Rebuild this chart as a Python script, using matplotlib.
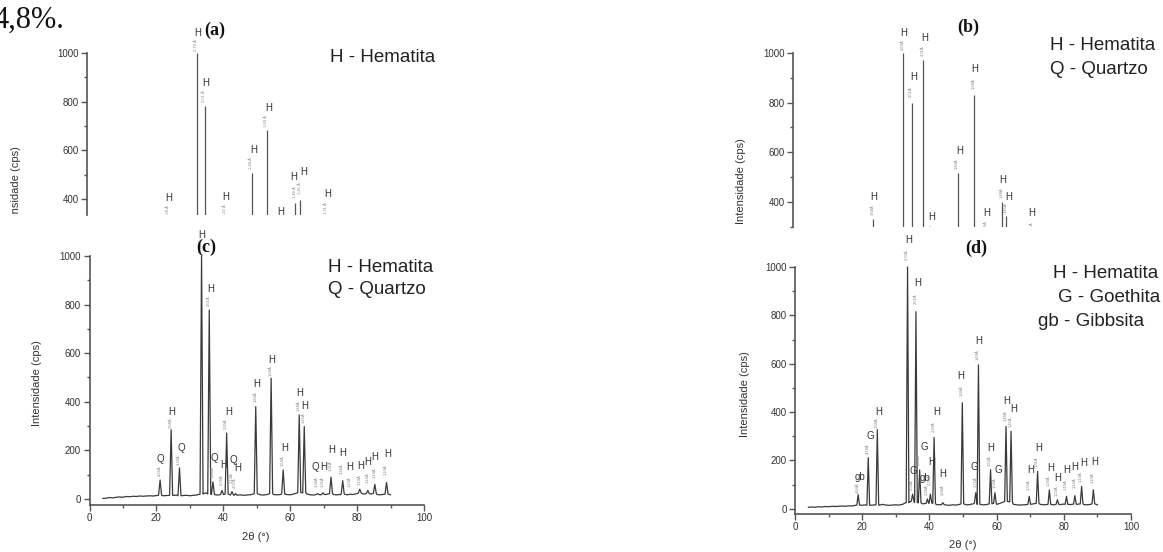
import numpy as np
import matplotlib
matplotlib.use("Agg")
import matplotlib.pyplot as plt
from matplotlib.transforms import Bbox, TransformedBbox

# --- dados -------------------------------------------------------------

# (a) padrão em barras (só a parte de cima aparece)
a_pos = [24.2, 32.7, 35.2, 41.2, 49.2, 53.6, 57.9, 62.1, 63.6, 71.5]
a_hgt = [310, 1000, 782, 310, 507, 684, 250, 383, 396, 320]
a_fase = ["H"] * 10
a_d = ["3,68 Å", "2,70 Å", "2,51 Å", "2,20 Å", "1,84 Å", "1,69 Å",
       "1,60 Å", "1,48 Å", "1,45 Å", "1,31 Å"]
a_lab_x = [24.3, 33.2, 35.3, 41.4, 49.9, 54.3, 57.9, 61.6, 64.8, 71.8]
a_lab_y = [404, 1082, 877, 408, 601, 774, 346, 490, 511, 420]

# (b) padrão em barras
b_pos = [23.9, 32.8, 35.3, 38.8, 41.3, 49.0, 53.9, 57.6, 62.3, 63.4, 71.1]
b_hgt = [330, 1000, 797, 972, 250, 517, 831, 265, 400, 345, 260]
b_fase = ["H"] * 11
b_d = ["3,68Å", "2,69Å", "2,51Å", "2,31Å", "2,19Å", "1,84Å", "1,69Å",
       "1,59Å", "1,48Å", "1,45Å", "1,31Å"]
b_lab_x = [23.9, 33.0, 35.8, 39.1, 41.3, 49.5, 54.2, 57.6, 62.3, 64.1, 71.1]
b_lab_y = [420, 1080, 903, 1060, 339, 606, 934, 355, 488, 420, 355]

# (c) difratograma completo
c_pos = [21.1, 24.4, 26.9, 33.5, 35.8, 36.9, 39.6, 41.0, 42.6, 43.7, 49.7,
         54.3, 57.9, 62.7, 64.2, 68.2, 69.8, 72.2, 75.7, 78.0, 80.8, 83.2,
         85.3, 88.8]
c_hgt = [78, 285, 128, 1000, 778, 70, 35, 271, 30, 22, 380,
         497, 119, 346, 298, 22, 25, 90, 75, 20, 40, 35,
         60, 68]
c_fase = ["Q", "H", "Q", "H", "H", "Q", "H", "H", "Q", "H", "H",
          "H", "H", "H", "H", "Q", "H", "H", "H", "H", "H", "H",
          "H", "H"]
c_d = ["4,26Å", "3,68Å", "3,34Å", "2,70Å", "2,51Å", "2,46Å", "2,28Å", "2,20Å",
       "2,13Å", "2,07Å", "1,83Å", "1,69Å", "1,59Å", "1,48Å", "1,45Å", "1,38Å",
       "1,35Å", "1,31Å", "1,26Å", "1,23Å", "1,19Å", "1,16Å", "1,14Å", "1,10Å"]
c_lab_x = [21.2, 24.6, 27.4, 33.5, 36.2, 37.4, 40.0, 41.5, 42.9, 44.4, 50.0,
           54.4, 58.4, 62.8, 64.4, 67.5, 70.1, 72.3, 75.8, 77.9, 81.0, 83.2,
           85.4, 89.3]
c_lab_y = [165, 358, 210, 1086, 864, 170, 140, 359, 160, 128, 473,
           572, 210, 437, 383, 132, 132, 200, 189, 132, 136, 153,
           172, 185]
c_base_x = np.arange(4, 91, 1.0)
c_base_y = np.array([2, 3, 6, 4, 7, 8, 7, 10, 9, 11, 10, 12, 11, 12, 13, 12,
                     14, 15, 13, 14, 15, 14, 16, 13, 14, 15, 13, 15, 16, 20,
                     22, 25, 20, 18, 16, 17, 18, 20, 17, 16, 15, 17, 15, 16,
                     17, 20, 22, 17, 16, 18, 22, 18, 17, 18, 20, 18, 17, 20,
                     24, 26, 25, 20, 17, 16, 18, 17, 18, 19, 22, 18, 17, 18,
                     20, 17, 18, 19, 22, 24, 20, 22, 20, 22, 18, 17, 19, 20,
                     17], dtype=float)

# (d) difratograma completo
d_pos = [18.8, 21.8, 24.5, 33.5, 35.0, 36.0, 37.1, 39.4, 40.3, 41.4, 44.0,
         49.8, 53.8, 54.6, 58.2, 59.5, 62.8, 64.3, 69.7, 72.2, 75.7, 78.1,
         80.8, 83.3, 85.3, 88.8]
d_hgt = [58, 211, 327, 1000, 60, 815, 160, 40, 60, 295, 25,
         438, 66, 595, 161, 66, 340, 320, 51, 154, 78, 37,
         51, 54, 92, 78]
d_fase = ["gb", "G", "H", "H", "G", "H", "G", "gb", "H", "H", "H",
          "H", "G", "H", "H", "G", "H", "H", "H", "H", "H", "H",
          "H", "H", "H", "H"]
d_d = ["4,84Å", "4,18Å", "3,68Å", "2,70Å", "2,58Å", "2,51Å", "2,44Å", "2,28Å",
       "2,23Å", "2,20Å", "2,08Å", "1,84Å", "1,72Å", "1,69Å", "1,60Å", "1,56Å",
       "1,48Å", "1,45Å", "1,35Å", "1,31Å", "1,26Å", "1,23Å", "1,19Å", "1,16Å",
       "1,14Å", "1,10Å"]
d_lab_x = [19.3, 22.3, 24.8, 33.9, 35.2, 36.4, 38.4, 38.8, 40.6, 42.2, 44.1,
           49.4, 53.4, 54.8, 58.3, 60.5, 63.0, 65.2, 70.1, 72.6, 76.2, 78.1,
           80.9, 83.3, 86.0, 89.3]
d_lab_y = [133, 302, 398, 1112, 154, 934, 257, 128, 195, 398, 145,
           551, 173, 692, 252, 161, 447, 413, 158, 252, 169, 129,
           158, 173, 190, 194]
d_base_x = np.arange(4, 91, 1.0)
d_base_y = np.array([6, 7, 6, 8, 7, 9, 8, 10, 9, 10, 11, 10, 12, 11, 14, 15,
                     14, 16, 14, 15, 16, 14, 18, 15, 14, 15, 16, 15, 18, 25,
                     28, 30, 26, 24, 20, 22, 24, 22, 17, 16, 17, 15, 14, 16,
                     15, 18, 20, 16, 17, 20, 24, 18, 16, 17, 20, 22, 18, 22,
                     28, 30, 28, 18, 16, 15, 16, 17, 18, 20, 22, 18, 16, 17,
                     18, 16, 18, 17, 19, 18, 17, 19, 18, 20, 17, 16, 18, 20,
                     16], dtype=float)

# --- figura ------------------------------------------------------------
W, H = 1163, 552
plt.rcParams['font.family'] = ['Liberation Sans', 'DejaVu Sans']
AX = '#555555'
TXT = '#333333'
LINE = '#3a3a3a'

fig = plt.figure(figsize=(W / 100, H / 100), dpi=100)
fig.patch.set_facecolor('white')


def px(x, y):
    # pixel (a partir do topo) -> fração da figura
    return x / W, 1 - y / H


def rect(x0, y0, x1, y1):
    return [x0 / W, 1 - y1 / H, (x1 - x0) / W, (y1 - y0) / H]


def clip_above(ycut):
    # tudo que estiver abaixo da linha de corte fica escondido
    return TransformedBbox(Bbox([[0, 1 - ycut / H], [1, 1.2]]), fig.transFigure)


def style(ax, bottom=True):
    ax.set_xlim(0, 100)
    ax.patch.set_visible(False)
    for s in ('top', 'right'):
        ax.spines[s].set_visible(False)
    for s in ('left', 'bottom'):
        ax.spines[s].set_color(AX)
        ax.spines[s].set_linewidth(1.2)
    ax.set_yticks(np.arange(0, 1001, 200))
    ax.set_yticks(np.arange(100, 1000, 200), minor=True)
    ax.set_xticks(np.arange(0, 101, 20))
    ax.set_xticks(np.arange(10, 100, 20), minor=True)
    ax.tick_params(which='both', direction='out', color=AX, width=1,
                   labelsize=7, labelcolor=TXT, pad=2)
    ax.tick_params(which='major', length=4)
    ax.tick_params(which='minor', length=2.5)
    if not bottom:
        ax.spines['bottom'].set_visible(False)
        ax.tick_params(axis='x', which='both', bottom=False, labelbottom=False)


def annotate(ax, pos, hgt, fase, dlab, lab_x, lab_y, box=None):
    for p, h, f, d, lx, ly in zip(pos, hgt, fase, dlab, lab_x, lab_y):
        t1 = ax.text(lx, ly, f, ha='center', va='center', fontsize=7,
                     color=TXT)
        t2 = ax.text(p, (h + ly - 14) / 2, d, ha='center', va='center',
                     rotation=90, fontsize=3.0, color='#888888')
        for t in (t1, t2):
            if box is not None:
                t.set_clip_box(box)
                t.set_clip_on(True)
            else:
                t.set_clip_on(False)


def trace(bx, by, pos, hgt, w):
    keep = np.ones(len(bx), bool)
    for p in pos:
        keep &= np.abs(bx - p) > w
    xs = list(bx[keep])
    ys = list(by[keep])
    for p, h in zip(pos, hgt):
        foot = by[np.argmin(np.abs(bx - p))]
        xs += [p - w, p, p + w]
        ys += [foot, h, foot]
    order = np.argsort(xs, kind='stable')
    return np.array(xs)[order], np.array(ys)[order]


# (a)
ax_a = fig.add_axes(rect(87, 53, 422, 215))
style(ax_a, bottom=False)
ax_a.set_ylim(334, 1000)
ax_a.vlines(a_pos, 0, a_hgt, color='#555555', lw=0.9)
annotate(ax_a, a_pos, a_hgt, a_fase, a_d, a_lab_x, a_lab_y, box=clip_above(215))

# (b)
ax_b = fig.add_axes(rect(793, 53, 1129, 227))
style(ax_b, bottom=False)
ax_b.set_ylim(299, 1000)
ax_b.vlines(b_pos, 0, b_hgt, color='#555555', lw=0.9)
annotate(ax_b, b_pos, b_hgt, b_fase, b_d, b_lab_x, b_lab_y, box=clip_above(227))

# (c)
ax_c = fig.add_axes(rect(89.5, 256, 424, 505))
style(ax_c)
ax_c.set_ylim(-25, 1000)
cx, cy = trace(c_base_x, c_base_y, c_pos, c_hgt, 0.45)
ax_c.plot(cx, cy, color=LINE, lw=0.9, clip_on=False)
annotate(ax_c, c_pos, c_hgt, c_fase, c_d, c_lab_x, c_lab_y)

# (d)
ax_d = fig.add_axes(rect(795, 267, 1131, 514))
style(ax_d)
ax_d.set_ylim(-22, 1000)
dx, dy = trace(d_base_x, d_base_y, d_pos, d_hgt, 0.4)
ax_d.plot(dx, dy, color=LINE, lw=0.9, clip_on=False)
annotate(ax_d, d_pos, d_hgt, d_fase, d_d, d_lab_x, d_lab_y)

# rótulos dos eixos
yl_a = fig.text(*px(16, 189), 'Intensidade (cps)', rotation=90, ha='center',
                va='center', fontsize=8, color=TXT)
yl_a.set_clip_box(clip_above(215))
yl_a.set_clip_on(True)
yl_b = fig.text(*px(741, 181), 'Intensidade (cps)', rotation=90, ha='center',
                va='center', fontsize=8, color=TXT)
yl_b.set_clip_box(clip_above(227))
yl_b.set_clip_on(True)
fig.text(*px(37, 383), 'Intensidade (cps)', rotation=90, ha='center',
         va='center', fontsize=8, color=TXT)
fig.text(*px(745, 394), 'Intensidade (cps)', rotation=90, ha='center',
         va='center', fontsize=8, color=TXT)
fig.text(*px(256, 537), '2θ (°)', ha='center', va='center', fontsize=8,
         color=TXT)
fig.text(*px(963, 545), '2θ (°)', ha='center', va='center', fontsize=8,
         color=TXT)

# letras dos painéis
serif = ['Liberation Serif', 'DejaVu Serif']
for lab, (x, y) in [('(a)', (215, 30)), ('(b)', (968, 27)),
                    ('(c)', (206, 247)), ('(d)', (976, 248))]:
    fig.text(*px(x, y), lab, ha='center', va='center', fontsize=13,
             fontweight='bold', family=serif, color='#111111')

# legendas
leg = [('H - Hematita', 330, 58), ('H - Hematita', 1050, 45),
       ('Q - Quartzo', 1050, 69), ('H - Hematita', 328, 267),
       ('Q - Quartzo', 328, 290), ('H - Hematita', 1053, 273),
       ('G - Goethita', 1058, 297), ('gb - Gibbsita', 1038, 321)]
for txt, x, y in leg:
    fig.text(*px(x, y), txt, ha='left', va='center', fontsize=13.5,
             color='#222222')

# resto do texto da página
fig.text(*px(-7, 28), '4,8%.', ha='left', va='baseline', fontsize=22,
         family=serif, color='#111111')

fig.savefig('out.png', dpi=100, facecolor='white')
